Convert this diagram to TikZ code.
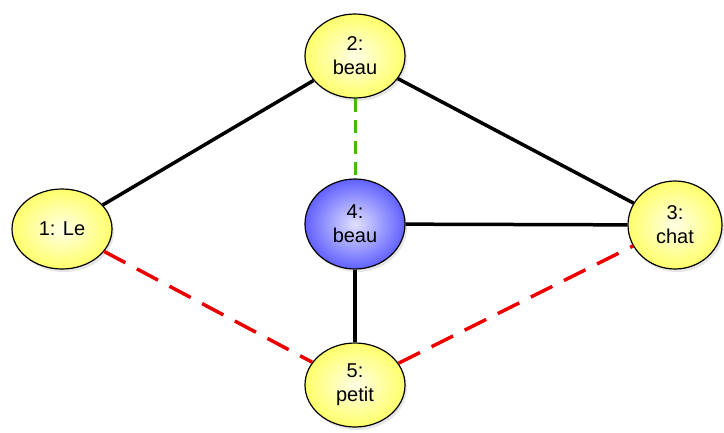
\documentclass[tikz,border=0pt]{standalone}
\usepackage{fontspec}
\setmainfont{Liberation Sans}
\usepackage{tikz}
\usetikzlibrary{shapes.geometric,shadows}

\tikzset{
  word/.style = {ellipse,
      draw = black,
      line width = 1.2pt,
      shading = radial,
      inner color = yellow!10!white,
      outer color = yellow!58!white,
      drop shadow = {opacity=0.2, shadow xshift=2pt, shadow yshift=-3pt},
      align = center,
      font = \fontsize{20}{24}\selectfont,
      minimum width = 100pt,
      minimum height = 84pt},
  wordblue/.style = {word,
      inner color = blue!12!white,
      outer color = blue!62!white},
  link/.style = {line width = 3.5pt, draw = black},
  redlink/.style = {line width = 3.5pt, draw = red!92!black,
      dash pattern = on 24pt off 13pt},
  greenlink/.style = {line width = 3pt, draw = green!45!olive,
      dash pattern = on 13pt off 8pt}
}

\begin{document}
\begin{tikzpicture}[x=1pt, y=-1pt]
\useasboundingbox (0,0) rectangle (724,432);

% words
\node[word, minimum width = 100pt, minimum height = 80pt] (le) at (62,229) {1: Le};
\node[word] (beau) at (355,56) {2:\\beau};
\node[word, minimum width = 94pt, minimum height = 88pt] (chat) at (675,225) {3:\\chat};
\node[wordblue, minimum height = 90pt] (beaub) at (355,224) {4:\\beau};
\node[word] (petit) at (355,385) {5:\\petit};

% solid links
\draw[link] (le) -- (beau);
\draw[link] (beau) -- (chat);
\draw[link] (beaub) -- (chat);
\draw[link] (beaub) -- (petit);

% dashed links
\draw[greenlink] (beau) -- (beaub);
\draw[redlink] (le) -- (petit);
\draw[redlink] (petit) -- (chat);

\end{tikzpicture}
\end{document}
